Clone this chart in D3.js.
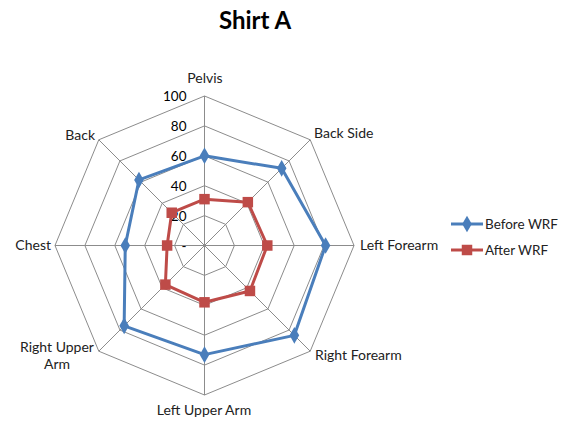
<!DOCTYPE html>
<html>
<head>
<meta charset="utf-8">
<script src="https://cdn.jsdelivr.net/npm/d3@7"></script>
<style>
  html, body { margin: 0; padding: 0; background: #fff; }
  svg { display: block; font-family: Lato, "Liberation Sans", sans-serif; }
</style>
</head>
<body>
<svg id="chart" width="568" height="425"></svg>
<script>
// Body zones, clockwise from the top
const categories = ["Pelvis", "Back Side", "Left Forearm", "Right Forearm",
                    "Left Upper Arm", "Right Upper Arm", "Chest", "Back"];
const beforeWRF = [60, 73, 81, 85, 73, 76, 53, 62];
const afterWRF  = [31, 41, 42, 43, 38, 37, 25, 31];
const tickValues = [0, 20, 40, 60, 80, 100];
const tickLabels = ["-", "20", "40", "60", "80", "100"];
const seriesNames = ["Before WRF", "After WRF"];

const svg = d3.select("#chart");
const cx = 204.5, cy = 245.5, R = 149.5;
const blue = "#4A7EBB", red = "#BE4B48", grid = "#8C8C8C";

const r = d3.scaleLinear().domain([0, 100]).range([0, R]);
const angle = d3.scalePoint().domain(categories).range([0, 2 * Math.PI * (categories.length - 1) / categories.length]);
const pt = (cat, v) => {
  const a = angle(cat);
  return [cx + r(v) * Math.sin(a), cy - r(v) * Math.cos(a)];
};

// Title
svg.append("text").attr("x", 255).attr("y", 29).attr("text-anchor", "middle")
  .style("font-size", "24px").style("font-weight", "bold").text("Shirt A");

// Octagonal grid rings
const g = svg.append("g");
tickValues.filter(v => v > 0).forEach(v => {
  g.append("polygon")
    .attr("points", categories.map(c => pt(c, v).join(",")).join(" "))
    .attr("fill", "none").attr("stroke", grid).attr("stroke-width", 1);
});
// Spokes
categories.forEach(c => {
  const [x, y] = pt(c, 100);
  g.append("line").attr("x1", cx).attr("y1", cy).attr("x2", x).attr("y2", y)
    .attr("stroke", grid).attr("stroke-width", 1);
});

// Radial tick labels along the top spoke
tickValues.forEach((v, i) => {
  svg.append("text").attr("x", cx - 18).attr("y", cy - r(v) + 5)
    .attr("text-anchor", "end").style("font-size", "13.5px").attr("fill", "#000")
    .text(tickLabels[i]);
});

// Category labels
const labelPos = {
  "Pelvis": { x: 205, y: 83, anchor: "middle" },
  "Back Side": { x: 314, y: 138, anchor: "start" },
  "Left Forearm": { x: 360, y: 250, anchor: "start" },
  "Right Forearm": { x: 315, y: 360, anchor: "start" },
  "Left Upper Arm": { x: 204, y: 415, anchor: "middle" },
  "Right Upper Arm": { x: 57, y: 352, anchor: "middle", lines: ["Right Upper", "Arm"] },
  "Chest": { x: 51, y: 250, anchor: "end" },
  "Back": { x: 95, y: 140, anchor: "end" }
};
categories.forEach(c => {
  const p = labelPos[c];
  const t = svg.append("text").attr("x", p.x).attr("y", p.y)
    .attr("text-anchor", p.anchor).style("font-size", "14px").attr("fill", "#222");
  (p.lines || [c]).forEach((ln, i) => {
    t.append("tspan").attr("x", p.x).attr("dy", i === 0 ? 0 : 17).text(ln);
  });
});

const line = d3.line().curve(d3.curveLinearClosed);
const series = [
  { name: seriesNames[0], values: beforeWRF, color: blue, marker: d3.symbolDiamond, size: 80 },
  { name: seriesNames[1], values: afterWRF, color: red, marker: d3.symbolSquare, size: 110 }
];

series.forEach(s => {
  const pts = categories.map((c, i) => pt(c, s.values[i]));
  svg.append("path").attr("d", line(pts)).attr("fill", "none")
    .attr("stroke", s.color).attr("stroke-width", 3).attr("stroke-linejoin", "round");
  svg.selectAll(null).data(pts).enter().append("path")
    .attr("d", d3.symbol().type(s.marker).size(s.size))
    .attr("transform", d => `translate(${d[0]},${d[1]})`)
    .attr("fill", s.color);
});

// Legend
series.forEach((s, i) => {
  const y = 224 + i * 26;
  svg.append("line").attr("x1", 451).attr("x2", 483).attr("y1", y).attr("y2", y)
    .attr("stroke", s.color).attr("stroke-width", 3);
  svg.append("path").attr("d", d3.symbol().type(s.marker).size(s.size))
    .attr("transform", `translate(467,${y})`).attr("fill", s.color);
  svg.append("text").attr("x", 485).attr("y", y + 5).style("font-size", "13.5px")
    .attr("fill", "#222").text(s.name);
});
</script>
</body>
</html>
